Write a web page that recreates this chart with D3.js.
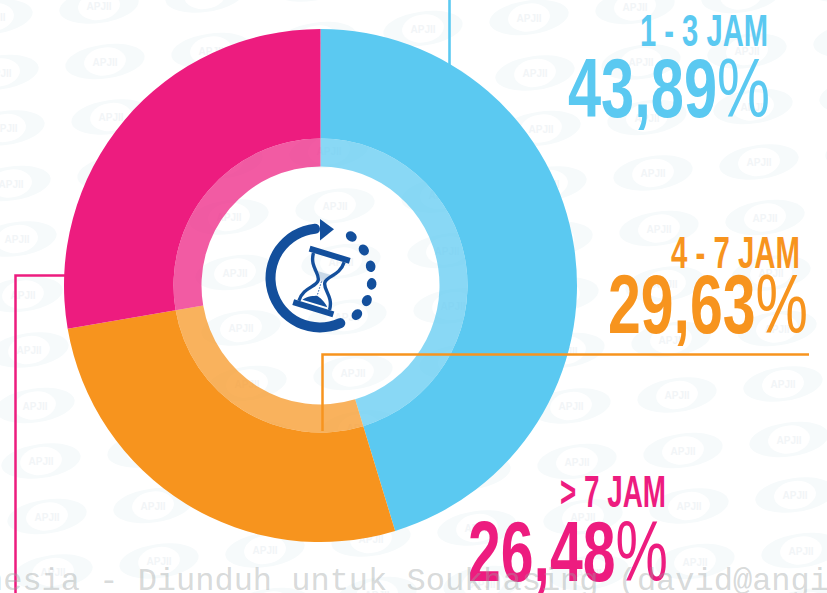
<!DOCTYPE html>
<html>
<head>
<meta charset="utf-8">
<script src="https://cdn.jsdelivr.net/npm/d3@7"></script>
<style>
  html, body { margin: 0; padding: 0; background: #fff; overflow: hidden; }
  svg { display: block; }
  .big { font-family: "Liberation Sans Narrow", "Liberation Sans", sans-serif; font-weight: 700; }
</style>
</head>
<body>
<div id="chart"></div>
<script>
var svgWidth = 827;
var svgHeight = 593;

// categories and printed values
var categories = ["1 - 3 JAM", "4 - 7 JAM", "> 7 JAM"];
var percentLabels = ["43,89", "29,63", "26,48"];
// size of each slice as drawn in the picture (it differs a bit from the printed numbers)
var sliceShares = [45.3, 27.0, 27.7];
var colors = ["#5bc9f1", "#f7941e", "#ed1c7f"];
var stampText = "nesia - Diunduh untuk Soukhasing (david@angi";

var centerX = 320.5;
var centerY = 285.5;

var svg = d3.select("#chart").append("svg")
  .attr("width", svgWidth)
  .attr("height", svgHeight);

// faint APJII logos behind everything
var logoGroup = svg.append("g");
for (var i = -7; i < 10; i++) {
  for (var j = -4; j < 9; j++) {
    var lx = 653 + i * 106 + j * 6;
    var ly = 173 - i * 11 + j * 55.5;
    if (lx < -50 || lx > svgWidth + 50 || ly < -30 || ly > svgHeight + 30) continue;
    var logo = logoGroup.append("g").attr("transform", `translate(${lx}, ${ly}) rotate(-8)`);
    logo.append("ellipse")
      .attr("rx", 40).attr("ry", 17)
      .attr("fill", "#f6fafb");
    logo.append("ellipse")
      .attr("rx", 21).attr("ry", 14)
      .attr("fill", "#fff");
    logo.append("text")
      .attr("text-anchor", "middle")
      .attr("y", 4)
      .attr("transform", "rotate(8)")
      .attr("font-family", "Liberation Sans")
      .attr("font-weight", 700)
      .attr("font-size", 10)
      .attr("fill", "#f2f5f7")
      .text("APJII");
  }
}

// leader lines that run under the donut
var leader = d3.line();
svg.append("path")
  .attr("d", leader([[449.5, 0], [449.5, 70]]))
  .attr("fill", "none").attr("stroke", colors[0]).attr("stroke-width", 2.6);
svg.append("path")
  .attr("d", leader([[70, 275.5], [15.5, 275.5], [15.5, 593]]))
  .attr("fill", "none").attr("stroke", colors[2]).attr("stroke-width", 2.5);

// donut
var pie = d3.pie().sort(null);
var arcs = pie(sliceShares);
var outerArc = d3.arc().innerRadius(147).outerRadius(256.5);
var ringArc = d3.arc().innerRadius(119).outerRadius(147);

var donut = svg.append("g").attr("transform", `translate(${centerX}, ${centerY})`);

donut.selectAll(".slice")
  .data(arcs)
  .enter()
  .append("path")
  .attr("class", "slice")
  .attr("d", outerArc)
  .attr("fill", (d, i) => colors[i]);

donut.selectAll(".ring")
  .data(arcs)
  .enter()
  .append("path")
  .attr("class", "ring")
  .attr("d", ringArc)
  .attr("fill", (d, i) => colors[i])
  .attr("fill-opacity", 0.72);

// orange leader sits on top of the donut
svg.append("path")
  .attr("d", leader([[809, 354.5], [322.5, 354.5], [322.5, 431]]))
  .attr("fill", "none").attr("stroke", colors[1]).attr("stroke-width", 2.5);

// hourglass icon
var iconBlue = "#134f9c";
var icon = svg.append("g").attr("transform", "translate(320, 278)");

icon.append("path")
  .attr("d", d3.arc()
    .innerRadius(44.5).outerRadius(54.5).cornerRadius(5)
    .startAngle(150 * Math.PI / 180).endAngle(2 * Math.PI)())
  .attr("fill", iconBlue);
icon.append("path")
  .attr("d", "M0,-59 L14,-48.7 L0,-37.5 Z")
  .attr("fill", iconBlue);

[37, 57.4, 77, 96.5, 115.7, 134.8].forEach(function(a) {
  icon.append("ellipse")
    .attr("rx", 5.8).attr("ry", 4.8)
    .attr("transform", `rotate(${a}) translate(0, -52)`)
    .attr("fill", iconBlue);
});

var glass = icon.append("g").attr("transform", "translate(1.5, 3.5) rotate(17)");
glass.append("rect").attr("x", -21).attr("y", -31).attr("width", 42).attr("height", 6).attr("fill", iconBlue);
glass.append("rect").attr("x", -21).attr("y", 25).attr("width", 42).attr("height", 6).attr("fill", iconBlue);
glass.append("path")
  .attr("d", "M-16,-25 C-16,-11 -3.5,-7 -3.5,0 C-3.5,7 -16,11 -16,25 M16,-25 C16,-11 3.5,-7 3.5,0 C3.5,7 16,11 16,25")
  .attr("fill", "none").attr("stroke", iconBlue).attr("stroke-width", 3.4);
glass.append("path")
  .attr("d", "M-12,-9 L12,-9 C8,-5 2,-3 1.5,0 L-1.5,0 C-2,-3 -8,-5 -12,-9 Z")
  .attr("fill", iconBlue).attr("fill-opacity", 0.2);
glass.append("path")
  .attr("d", "M-13,23 C-9,18 -3,16 0,15 C3,16 9,18 13,23 Z")
  .attr("fill", iconBlue);
glass.append("line")
  .attr("x1", 0).attr("x2", 0).attr("y1", 0).attr("y2", 15)
  .attr("stroke", iconBlue).attr("stroke-width", 0.8).attr("stroke-dasharray", "1.5 1.5");

// labels, squeezed to the width of the condensed lettering in the picture
var labelBox = [
  { x: 640, w: 128, base: 46, size: 45 },
  { x: 671, w: 129, base: 268, size: 45 },
  { x: 560, w: 106, base: 507, size: 44 }
];
var valueBox = [
  { x: 568, w: 202, base: 117, size: 83 },
  { x: 608, w: 200, base: 333, size: 83 },
  { x: 468, w: 200, base: 581, size: 85 }
];

svg.selectAll(".catLabel")
  .data(categories)
  .enter()
  .append("text")
  .attr("class", "catLabel big")
  .attr("x", (d, i) => labelBox[i].x)
  .attr("y", (d, i) => labelBox[i].base)
  .attr("font-size", (d, i) => labelBox[i].size)
  .attr("textLength", (d, i) => labelBox[i].w)
  .attr("lengthAdjust", "spacingAndGlyphs")
  .attr("fill", (d, i) => colors[i])
  .text(d => d);

var valueText = svg.selectAll(".valLabel")
  .data(percentLabels)
  .enter()
  .append("text")
  .attr("class", "valLabel big")
  .attr("x", (d, i) => valueBox[i].x)
  .attr("y", (d, i) => valueBox[i].base)
  .attr("font-size", (d, i) => valueBox[i].size)
  .attr("textLength", (d, i) => valueBox[i].w)
  .attr("lengthAdjust", "spacingAndGlyphs")
  .attr("fill", (d, i) => colors[i]);
valueText.append("tspan").text(d => d);
valueText.append("tspan").attr("font-weight", 400).text("%");

// download stamp along the bottom
svg.append("text")
  .attr("x", -16)
  .attr("y", 590)
  .attr("font-family", "Liberation Mono")
  .attr("font-size", 32)
  .attr("fill", "#9aa0a0")
  .attr("fill-opacity", 0.4)
  .text(stampText);
</script>
</body>
</html>
